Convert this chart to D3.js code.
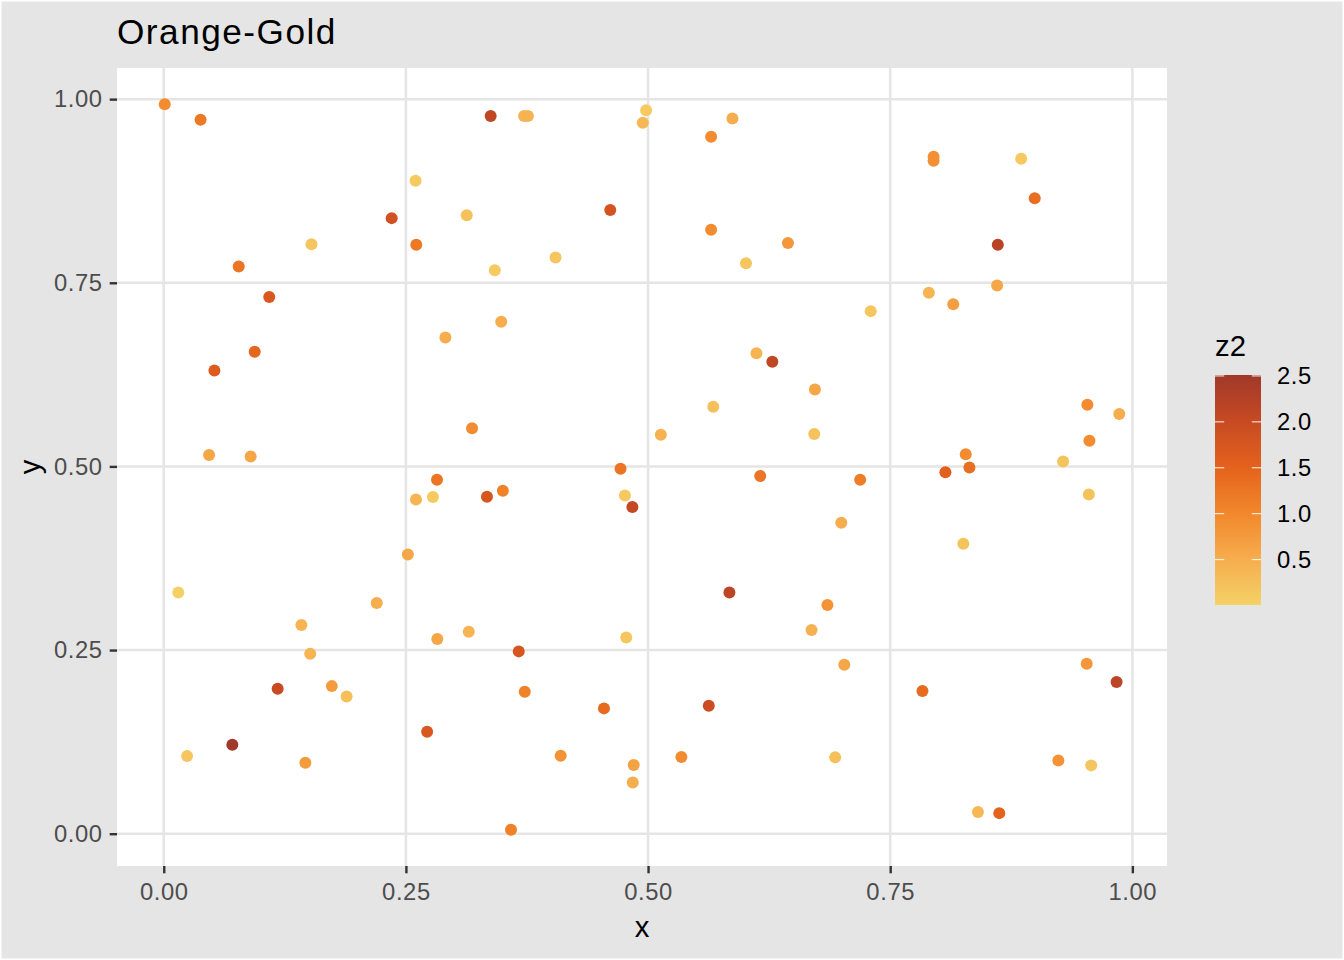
<!DOCTYPE html>
<html>
<head>
<meta charset="utf-8">
<script src="https://cdn.jsdelivr.net/npm/d3@7"></script>
<style>
body { margin: 0; background: #ffffff; }
text { font-family: "Liberation Sans", Arial, Helvetica, sans-serif; }
</style>
</head>
<body>
<script>
"use strict"

// values
var xs = [0.001, 0.038, 0.3375, 0.372, 0.376, 0.498, 0.4946, 0.260, 0.461, 0.2353,
          0.3128, 0.1525, 0.2607, 0.0774, 0.4045, 0.3418, 0.1089, 0.3484, 0.2908, 0.0939,
          0.0523, 0.3183, 0.0468, 0.0897, 0.4716, 0.5871, 0.5651, 0.7948, 0.7948, 0.8852,
          0.8992, 0.5651, 0.6444, 0.6011, 0.8611, 0.8604, 0.7899, 0.8151, 0.7299, 0.6119,
          0.6283, 0.6723, 0.5673, 0.5132, 0.6716, 0.9536, 0.9865, 0.9557, 0.828, 0.9285,
          0.8318, 0.807, 0.2821, 0.2604, 0.2779, 0.3337, 0.3501, 0.4761, 0.4838, 0.252,
          0.015, 0.2199, 0.1421, 0.2824, 0.3149, 0.4775, 0.3665, 0.1512, 0.1176, 0.1735,
          0.1888, 0.3727, 0.4545, 0.2719, 0.0708, 0.0241, 0.1462, 0.4098, 0.4852, 0.4842,
          0.3585, 0.6158, 0.719, 0.9551, 0.6995, 0.8255, 0.584, 0.6852, 0.6688, 0.7026,
          0.9529, 0.9837, 0.7833, 0.5627, 0.5344, 0.6932, 0.9236, 0.9575, 0.8406, 0.8626];

var ys = [0.993, 0.972, 0.977, 0.977, 0.977, 0.985, 0.968, 0.889, 0.849, 0.838,
          0.842, 0.8026, 0.8018, 0.7723, 0.7845, 0.7672, 0.7305, 0.697, 0.6756, 0.6561,
          0.6307, 0.5521, 0.5154, 0.5136, 0.4969, 0.9737, 0.9488, 0.9216, 0.9161, 0.9189,
          0.8652, 0.8222, 0.804, 0.7767, 0.8018, 0.7464, 0.7365, 0.7209, 0.7114, 0.6542,
          0.6425, 0.6048, 0.5813, 0.5432, 0.544, 0.584, 0.5712, 0.535, 0.5167, 0.5068,
          0.4986, 0.4922, 0.4819, 0.4551, 0.4582, 0.4588, 0.4669, 0.4605, 0.4446, 0.3802,
          0.3285, 0.3139, 0.284, 0.2649, 0.275, 0.2672, 0.2482, 0.245, 0.1974, 0.2009,
          0.1869, 0.1933, 0.1706, 0.1389, 0.1212, 0.1056, 0.0967, 0.1062, 0.0934, 0.0698,
          0.0054, 0.4868, 0.4819, 0.4619, 0.4234, 0.3948, 0.3285, 0.3112, 0.2772, 0.2301,
          0.2314, 0.2064, 0.1941, 0.1742, 0.1043, 0.1039, 0.0998, 0.093, 0.0294, 0.028];

var zs = [0.95, 1.2, 2.1, 0.4, 0.42, 0.1, 0.35, 0.1, 1.8, 1.85,
          0.22, 0.15, 1.2, 1.25, 0.15, 0.1, 1.7, 0.5, 0.5, 1.45,
          1.65, 0.95, 0.6, 0.6, 1.25, 0.5, 0.95, 0.9, 0.9, 0.12,
          1.35, 0.95, 0.8, 0.15, 2.2, 0.6, 0.4, 0.7, 0.15, 0.4,
          2.1, 0.6, 0.25, 0.45, 0.2, 0.95, 0.5, 0.95, 0.95, 0.2,
          1.35, 1.55, 1.25, 0.4, 0.1, 1.75, 1.1, 0.12, 2.05, 0.6,
          0.005, 0.5, 0.4, 0.6, 0.4, 0.15, 1.75, 0.4, 2.0, 0.75,
          0.25, 1.1, 1.4, 1.7, 2.51, 0.15, 0.75, 0.85, 0.65, 0.5,
          1.1, 1.25, 1.15, 0.2, 0.5, 0.2, 2.15, 0.85, 0.45, 0.6,
          0.8, 2.15, 1.4, 1.95, 0.95, 0.25, 0.85, 0.15, 0.35, 1.5];

var xTicks = [0, 0.25, 0.5, 0.75, 1];
var yTicks = [0, 0.25, 0.5, 0.75, 1];
var zTicks = [0.5, 1, 1.5, 2, 2.5];

// palette stops of the colour bar
var zStops = [0, 0.5, 1, 1.5, 2, 2.51];
var zColours = ["#f4d166", "#f6ad4e", "#f2882c", "#e4621c", "#c84a22", "#a0392a"];

var W = 1344, H = 960;
var pLeft = 117, pTop = 68, pRight = 1167, pBottom = 866;

function expand(ext) {
    var pad = (ext[1] - ext[0]) * 0.05;
    return [ext[0] - pad, ext[1] + pad];
}

var svg = d3.select("body").append("svg")
                           .attr("width", W)
                           .attr("height", H);

// plot background with white border
svg.append("rect").attr("x", 0).attr("y", 0)
                  .attr("width", W).attr("height", H)
                  .attr("fill", "#ffffff");
svg.append("rect").attr("x", 1.5).attr("y", 1.5)
                  .attr("width", W - 3).attr("height", H - 3)
                  .attr("fill", "#e5e5e5");

// panel
svg.append("rect").attr("x", pLeft).attr("y", pTop)
                  .attr("width", pRight - pLeft).attr("height", pBottom - pTop)
                  .attr("fill", "#ffffff");

var x = d3.scaleLinear().domain(expand(d3.extent(xs))).range([pLeft, pRight]);
var y = d3.scaleLinear().domain(expand(d3.extent(ys))).range([pBottom, pTop]);
var colour = d3.scaleLinear().domain(zStops).range(zColours)
                             .interpolate(d3.interpolateLab).clamp(true);

// grid
svg.append("g").selectAll("line").data(xTicks).enter().append("line")
   .attr("x1", d => x(d)).attr("x2", d => x(d))
   .attr("y1", pTop).attr("y2", pBottom)
   .attr("stroke", "#e5e5e5").attr("stroke-width", 2.5);
svg.append("g").selectAll("line").data(yTicks).enter().append("line")
   .attr("x1", pLeft).attr("x2", pRight)
   .attr("y1", d => y(d)).attr("y2", d => y(d))
   .attr("stroke", "#e5e5e5").attr("stroke-width", 2.5);

// points
var idx = d3.range(xs.length);
svg.append("g").selectAll("circle").data(idx).enter().append("circle")
   .attr("cx", i => x(xs[i]))
   .attr("cy", i => y(ys[i]))
   .attr("r", 6)
   .attr("fill", i => colour(zs[i]));

// axes
function styleAxis(g) {
    g.select(".domain").remove();
    g.selectAll(".tick line").attr("stroke", "#333333").attr("stroke-width", 2.4);
    g.selectAll(".tick text").attr("fill", "#4d4d4d")
                             .attr("font-size", 23.8)
                             .attr("letter-spacing", 0.6)
                             .style("font-family", "'Liberation Sans', Arial, sans-serif");
}

svg.append("g").attr("transform", "translate(0," + pBottom + ")")
   .call(d3.axisBottom(x).tickValues(xTicks).tickFormat(d3.format(".2f"))
                         .tickSize(7.3).tickPadding(9.5))
   .call(styleAxis);

svg.append("g").attr("transform", "translate(" + pLeft + ",0)")
   .call(d3.axisLeft(y).tickValues(yTicks).tickFormat(d3.format(".2f"))
                       .tickSize(7.3).tickPadding(7))
   .call(styleAxis);

// titles
svg.append("text").attr("x", 117).attr("y", 44)
                  .attr("font-size", 35.2)
                  .attr("letter-spacing", 1.5)
                  .attr("fill", "#000000")
                  .text("Orange-Gold");
svg.append("text").attr("x", (pLeft + pRight) / 2).attr("y", 937)
                  .attr("font-size", 29.3)
                  .attr("text-anchor", "middle")
                  .text("x");
svg.append("text").attr("transform", "translate(40," + (pTop + pBottom) / 2 + ") rotate(-90)")
                  .attr("font-size", 29.3)
                  .attr("text-anchor", "middle")
                  .text("y");

// colour bar legend
var barX = 1215, barW = 46, barTop = 375, barBottom = 605;
var zScale = d3.scaleLinear().domain(d3.extent(zs)).range([barBottom, barTop]);

var grad = svg.append("defs").append("linearGradient")
              .attr("id", "zgrad")
              .attr("x1", 0).attr("y1", 1).attr("x2", 0).attr("y2", 0);
var zDom = zScale.domain();
var gradVals = d3.range(0, 21).map(i => zDom[0] + i / 20 * (zDom[1] - zDom[0]));
grad.selectAll("stop").data(gradVals).enter().append("stop")
    .attr("offset", (d, i) => (i / 20 * 100) + "%")
    .attr("stop-color", d => colour(d));

svg.append("rect").attr("x", barX).attr("y", barTop)
                  .attr("width", barW).attr("height", barBottom - barTop)
                  .attr("fill", "url(#zgrad)");

var ticksG = svg.append("g");
ticksG.selectAll("line.l").data(zTicks).enter().append("line")
      .attr("class", "l")
      .attr("x1", barX).attr("x2", barX + barW / 5)
      .attr("y1", d => zScale(d)).attr("y2", d => zScale(d))
      .attr("stroke", "#ffffff").attr("stroke-opacity", 0.8).attr("stroke-width", 1.2);
ticksG.selectAll("line.r").data(zTicks).enter().append("line")
      .attr("class", "r")
      .attr("x1", barX + barW - barW / 5).attr("x2", barX + barW)
      .attr("y1", d => zScale(d)).attr("y2", d => zScale(d))
      .attr("stroke", "#ffffff").attr("stroke-opacity", 0.8).attr("stroke-width", 1.2);

svg.append("g").selectAll("text").data(zTicks).enter().append("text")
   .attr("x", 1277)
   .attr("y", d => zScale(d))
   .attr("dy", "0.35em")
   .attr("font-size", 23.8)
   .attr("letter-spacing", 0.6)
   .attr("fill", "#000000")
   .text(d => d3.format(".1f")(d));

svg.append("text").attr("x", barX).attr("y", 356)
                  .attr("font-size", 29.3)
                  .text("z2");
</script>
</body>
</html>
